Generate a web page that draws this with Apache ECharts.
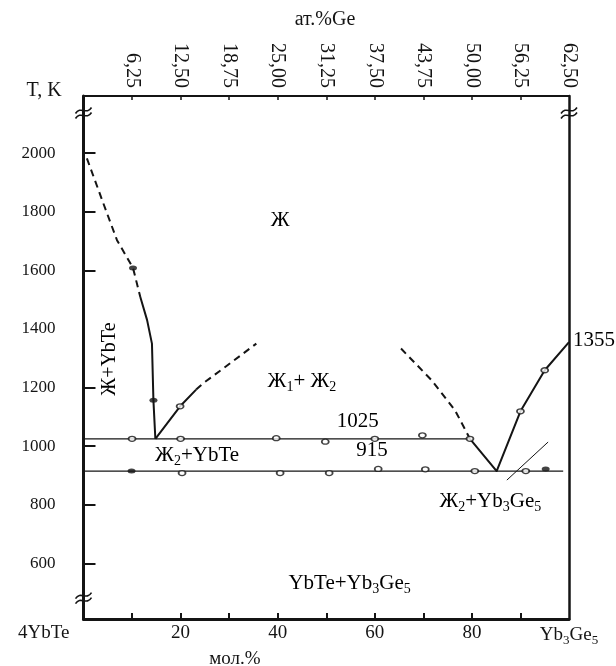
<!DOCTYPE html>
<html><head><meta charset="utf-8">
<script src="https://cdn.jsdelivr.net/npm/echarts@6/dist/echarts.min.js"></script>
<style>html,body{margin:0;background:#fff}#c{width:616px;height:666px}</style>
</head><body><div id="c"></div><script>
// ---- tick labels ----
const yLabelValues = [600, 800, 1000, 1200, 1400, 1600, 1800, 2000];
const yTickValues = [600, 800, 1000, 1200, 1600, 1800, 2000];
const bottomLabelValues = [0, 20, 40, 60, 80, 100];
const bottomLabels = ['{f|4YbTe}', '20', '40', '60', '80', '{n|Yb}{s|3}{n|Ge}{s|5}'];
const bottomTickValues = [10, 20, 30, 40, 50, 60, 70, 80, 90];
const topLabelValues = [10, 20, 30, 40, 50, 60, 70, 80, 90, 100];
const topLabels = ['6,25', '12,50', '18,75', '25,00', '31,25', '37,50', '43,75', '50,00', '56,25', '62,50'];

// ---- curves (mol.% , K) ----
const liqLeftDashed = [[0.7, 1982], [4.1, 1828], [6.9, 1703], [10.2, 1608], [11.7, 1509]];
const liqLeftSolid = [[11.7, 1509], [13.1, 1430], [14.1, 1350], [14.4, 1157], [14.8, 1025]];
const gapLeftSolid = [[14.8, 1025], [19.9, 1136], [23.2, 1193]];
const gapLeftDashed = [[23.2, 1193], [24.6, 1214], [30.8, 1290], [35.6, 1350]];
const gapRightDashed = [[65.4, 1333], [71.7, 1225], [76.5, 1123], [79.6, 1025]];
const liqGeSolid = [[79.6, 1025], [85.1, 915], [90, 1119], [95, 1259], [100, 1355]];
const monotectic = [[0, 1025], [79.6, 1025]];
const eutectic = [[0, 915], [98.8, 915]];
const leader = [[87.2, 884], [95.7, 1014]];

// ---- experimental points ----
const openPoints = [[10, 1025], [20, 1025], [39.7, 1027], [49.8, 1015], [60, 1025], [69.8, 1037], [79.6, 1025],
  [20.3, 908], [40.5, 908], [50.6, 908], [60.7, 922], [70.4, 921], [80.6, 915], [91.1, 915],
  [19.9, 1136], [90, 1119], [95, 1259]];
const filledPoints = [[9.9, 915], [95.2, 922], [10.2, 1608], [14.4, 1157]];

const F = '"Liberation Serif", "Times New Roman", serif';
const C = '#141414';
function richOf(size) {
  return {
    n: { fontFamily: F, fontSize: size, color: C },
    f: { fontFamily: F, fontSize: size, color: C, padding: [0, 14, 0, 0] },
    s: { fontFamily: F, fontSize: Math.round(size * 0.68), color: C, padding: [Math.round(size * 0.55), 0, 0, 0] }
  };
}

function lineS(data, width, dashed) {
  return { type: 'line', data: data, symbol: 'none', showSymbol: false, silent: true, z: 3,
    lineStyle: { color: C, width: width, type: dashed ? [7, 5] : 'solid', cap: 'butt', join: 'round' } };
}

const chart = echarts.init(document.getElementById('c'));
chart.setOption({
  animation: false,
  backgroundColor: '#fff',
  grid: { left: 83.5, right: 47, top: 96, bottom: 47 },
  xAxis: [
    { type: 'value', position: 'bottom', min: 0, max: 100,
      axisLine: { show: true, onZero: false, lineStyle: { color: C, width: 3 } },
      axisTick: { show: true, inside: true, length: 6, customValues: bottomTickValues, lineStyle: { color: C, width: 2 } },
      axisLabel: { customValues: bottomLabelValues, margin: 5, fontFamily: F, fontSize: 19, color: C,
        formatter: function (v) { const i = bottomLabelValues.indexOf(v); return i < 0 ? '' : (i === 0 || i === bottomLabels.length - 1 ? bottomLabels[i] : '{n|' + bottomLabels[i] + '}'); },
        rich: richOf(19), alignMinLabel: 'right', alignMaxLabel: 'center' },
      splitLine: { show: false } },
    { type: 'value', position: 'top', min: 0, max: 100,
      axisLine: { show: true, onZero: false, lineStyle: { color: C, width: 2 } },
      axisTick: { show: true, inside: true, length: 4, customValues: bottomTickValues, lineStyle: { color: C, width: 1.5 } },
      axisLabel: { customValues: topLabelValues, rotate: 90, margin: 8, fontFamily: F, fontSize: 20, color: C,
        formatter: function (v) { const i = topLabelValues.indexOf(v); return i < 0 ? '' : topLabels[i]; } },
      splitLine: { show: false } }
  ],
  yAxis: [
    { type: 'value', position: 'left', min: 410, max: 2195,
      axisLine: { show: true, onZero: false, lineStyle: { color: C, width: 3 } },
      axisTick: { show: true, inside: true, length: 12, customValues: yTickValues, lineStyle: { color: C, width: 2 } },
      axisLabel: { customValues: yLabelValues, margin: 28, fontFamily: F, fontSize: 17, color: C,
        formatter: function (v) { return String(v); } },
      splitLine: { show: false } },
    { type: 'value', position: 'right', min: 410, max: 2195,
      axisLine: { show: true, onZero: false, lineStyle: { color: C, width: 2.5 } },
      axisTick: { show: false }, axisLabel: { show: false }, splitLine: { show: false } }
  ],
  series: [
    lineS(monotectic, 1.2, false),
    lineS(eutectic, 1.2, false),
    lineS(leader, 1, false),
    lineS(liqLeftDashed, 2, true),
    lineS(liqLeftSolid, 2, false),
    lineS(gapLeftSolid, 2, false),
    lineS(gapLeftDashed, 2, true),
    lineS(gapRightDashed, 2, true),
    lineS(liqGeSolid, 2, false),
    { type: 'scatter', data: openPoints, symbol: 'circle', symbolSize: [7, 5], silent: true, z: 5,
      itemStyle: { color: '#fff', borderColor: C, borderWidth: 1.5 } },
    { type: 'scatter', data: filledPoints, symbol: 'circle', symbolSize: [8, 5], silent: true, z: 5,
      itemStyle: { color: C } }
  ]
});

// ---- annotations (anchored in data coordinates) ----
const notes = [
  { t: '{n|Ж}', x: 40.5, y: 1771 },
  { t: '{n|Ж+YbTe}', x: 5.5, y: 1297, rot: true },
  { t: '{n|Ж}{s|1}{n|+ Ж}{s|2}', x: 45, y: 1222 },
  { t: '{n|1025}', x: 56.5, y: 1085 },
  { t: '{n|915}', x: 59.4, y: 986 },
  { t: '{n|Ж}{s|2}{n|+YbTe}', x: 23.4, y: 968 },
  { t: '{n|Ж}{s|2}{n|+Yb}{s|3}{n|Ge}{s|5}', x: 83.8, y: 812 },
  { t: '{n|YbTe+Yb}{s|3}{n|Ge}{s|5}', x: 54.8, y: 532 },
  { t: '{n|1355}', x: 100.8, y: 1362, left: true }
];
const r21 = richOf(21);
const g = [];
notes.forEach(function (a) {
  const p = chart.convertToPixel({ xAxisIndex: 0, yAxisIndex: 0 }, [a.x, a.y]);
  g.push({ type: 'text', x: p[0], y: p[1], rotation: a.rot ? Math.PI / 2 : 0, z: 10, silent: true,
    style: { text: a.t, rich: a.rot ? richOf(20) : r21, align: a.left ? 'left' : 'center', verticalAlign: 'middle' } });
});
// axis titles
g.push({ type: 'text', x: 44, y: 91, silent: true, style: { text: 'T, K', font: '20px ' + F, fill: C, align: 'center', verticalAlign: 'middle' } });
g.push({ type: 'text', x: 325, y: 20, silent: true, style: { text: 'ат.%Ge', font: '20px ' + F, fill: C, align: 'center', verticalAlign: 'middle' } });
g.push({ type: 'text', x: 235, y: 659, silent: true, style: { text: 'мол.%', font: '19px ' + F, fill: C, align: 'center', verticalAlign: 'middle' } });
// axis break marks
[[0, 2137], [0, 481], [100, 2137]].forEach(function (b) {
  const p = chart.convertToPixel({ xAxisIndex: 0, yAxisIndex: 0 }, b);
  const children = [{ type: 'rect', shape: { x: -4, y: -2.5, width: 8, height: 5 }, style: { fill: '#fff' } }];
  [-2.5, 2.5].forEach(function (d) {
    children.push({ type: 'bezierCurve', shape: { x1: -8, y1: d + 3, cpx1: -3, cpy1: d - 5, cpx2: 3, cpy2: d + 5, x2: 8, y2: d - 3 },
      style: { stroke: C, lineWidth: 1.6, fill: null } });
  });
  g.push({ type: 'group', x: p[0], y: p[1], z: 20, silent: true, children: children });
});
chart.setOption({ graphic: g });
</script></body></html>
